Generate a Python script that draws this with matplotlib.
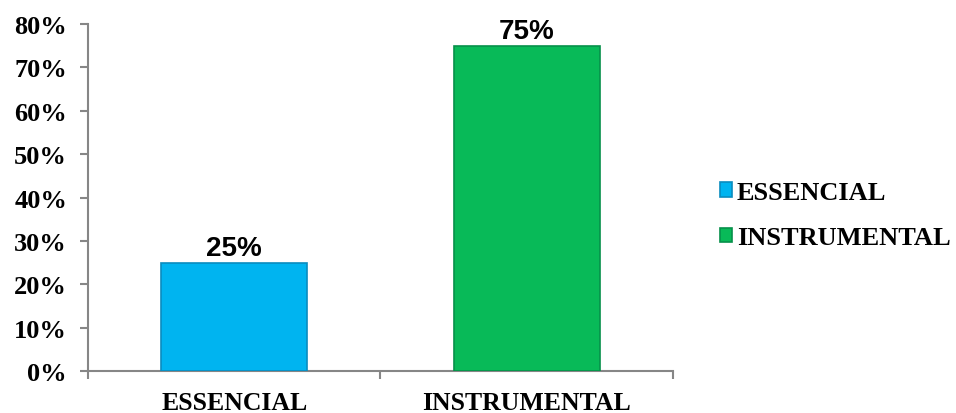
import matplotlib.pyplot as plt

# dados do gráfico
categorias = ["ESSENCIAL", "INSTRUMENTAL"]
valores = [25, 75]
cores = ["#00B4F0", "#08BA58"]
bordas = ["#0A8CBF", "#06904A"]
ticks_y = [0, 10, 20, 30, 40, 50, 60, 70, 80]

fig = plt.figure(figsize=(9.56, 4.14), dpi=100)
ax = fig.add_axes([0.092, 0.101, 0.612, 0.839])

x = range(len(categorias))
barras = ax.bar(x, valores, width=0.5, color=cores, edgecolor=bordas,
                linewidth=1.2, label=categorias, zorder=3)

# rótulos de valor acima das barras
for xi, v in zip(x, valores):
    ax.text(xi, v + 0.4, f"{v}%", ha="center", va="bottom",
            fontsize=20, fontweight="bold", family="Liberation Sans")

ax.set_xlim(-0.5, len(categorias) - 0.5)
ax.set_ylim(0, 80)
ax.set_yticks(ticks_y)
ax.set_yticklabels([f"{t}%" for t in ticks_y], fontsize=19,
                   fontweight="bold", family="Liberation Serif")
ax.set_xticks([-0.5, 0.5, 1.5], minor=False)
ax.set_xticklabels([])
ax.set_xticks(list(x), minor=True)
ax.set_xticklabels(categorias, minor=True, fontsize=18.5,
                   fontweight="bold", family="Liberation Serif")
ax.tick_params(axis="x", which="minor", length=0, pad=14)
ax.tick_params(axis="x", which="major", length=6, color="#868686", width=1.5)
ax.tick_params(axis="y", length=6, color="#868686", width=1.5, pad=9)

for lado in ["top", "right"]:
    ax.spines[lado].set_visible(False)
for lado in ["left", "bottom"]:
    ax.spines[lado].set_color("#868686")
    ax.spines[lado].set_linewidth(1.5)

leg = fig.legend(handles=list(barras), labels=categorias,
                 loc="center left", bbox_to_anchor=(0.728, 0.478),
                 frameon=False, handlelength=0.45, handleheight=0.45,
                 handletextpad=0.2, labelspacing=0.85,
                 prop={"family": "Liberation Serif", "weight": "bold", "size": 19})

fig.savefig("out.png", dpi=100)
